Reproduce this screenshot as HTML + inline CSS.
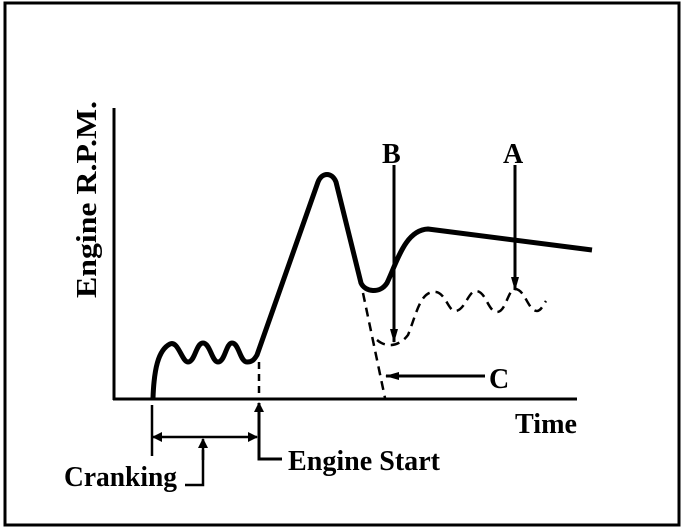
<!DOCTYPE html>
<html><head><style>
html,body{margin:0;padding:0;background:#fff;}
svg{display:block;}
text{font-family:"Liberation Serif",serif;font-size:28px;font-weight:bold;fill:#000;}
</style></head><body>
<svg width="688" height="532" viewBox="0 0 688 532" xmlns="http://www.w3.org/2000/svg">
<rect x="5" y="3" width="674" height="522" fill="none" stroke="#000" stroke-width="3"/>
<defs><marker id="ah" markerWidth="10" markerHeight="10" refX="9" refY="5" orient="auto" markerUnits="userSpaceOnUse"><path d="M0,0 L10,5 L0,10 Z" fill="#000"/></marker>
<marker id="ah2" markerWidth="14" markerHeight="10" refX="13" refY="5" orient="auto" markerUnits="userSpaceOnUse"><path d="M0,1 L14,5 L0,9 Z" fill="#000"/></marker></defs>
<line x1="114" y1="108" x2="114" y2="400" stroke="#000" stroke-width="3"/>
<line x1="113" y1="399" x2="577" y2="399" stroke="#000" stroke-width="3"/>
<path d="M153,398 C154,370 158,350 170,344 C178,340 182,362 188,362 C195,362 196,343 203,343 C210,343 212,362 218,362 C225,362 226,343 232,343 C239,343 240,362 247,362 C252,362 254,360 257,355 L318,182 C322,172 332,172 336,182 L361,283 C365,292 380,294 387,283 C397,262 405,230 428,229 L592,250" fill="none" stroke="#000" stroke-width="5" stroke-linejoin="round"/>
<line x1="259" y1="362" x2="259" y2="398" stroke="#000" stroke-width="2.5" stroke-dasharray="7,5"/>
<path d="M363,293 L385,398" fill="none" stroke="#000" stroke-width="2.5" stroke-dasharray="9,6"/>
<path d="M377,340 C385,347 398,348 408,335 C416,315 420,293 433,292 C445,290 448,311 455,311 C465,311 468,291 476,291 C486,291 488,312 497,312 C506,312 508,289 515,289 C525,289 528,311 537,311 C541,311 543,305 546,301" fill="none" stroke="#000" stroke-width="2.5" stroke-dasharray="9,6"/>
<line x1="394" y1="165" x2="394" y2="342" stroke="#000" stroke-width="3" marker-end="url(#ah2)"/>
<line x1="515" y1="165" x2="515" y2="290" stroke="#000" stroke-width="3" marker-end="url(#ah2)"/>
<line x1="485" y1="376" x2="386" y2="376" stroke="#000" stroke-width="3" marker-end="url(#ah2)"/>
<text x="382" y="163">B</text>
<text x="503" y="163">A</text>
<text x="489" y="388">C</text>
<text x="515" y="433" textLength="62" lengthAdjust="spacingAndGlyphs">Time</text>
<text transform="translate(96,298) rotate(-90)" textLength="197" lengthAdjust="spacingAndGlyphs">Engine R.P.M.</text>
<line x1="152" y1="405" x2="152" y2="456" stroke="#000" stroke-width="2.5"/>
<line x1="200" y1="437" x2="153" y2="437" stroke="#000" stroke-width="2.5" marker-end="url(#ah)"/>
<line x1="200" y1="437" x2="257" y2="437" stroke="#000" stroke-width="2.5" marker-end="url(#ah)"/>
<polyline points="185,485 203,485 203,450" fill="none" stroke="#000" stroke-width="2.5"/>
<line x1="203" y1="460" x2="203" y2="439" stroke="#000" stroke-width="2.5" marker-end="url(#ah)"/>
<text x="64" y="486" textLength="113" lengthAdjust="spacingAndGlyphs">Cranking</text>
<polyline points="282,459 259,459 259,420" fill="none" stroke="#000" stroke-width="3"/>
<line x1="259" y1="430" x2="259" y2="403" stroke="#000" stroke-width="3" marker-end="url(#ah)"/>
<text x="288" y="470" textLength="152" lengthAdjust="spacingAndGlyphs">Engine Start</text>
</svg>
</body></html>
